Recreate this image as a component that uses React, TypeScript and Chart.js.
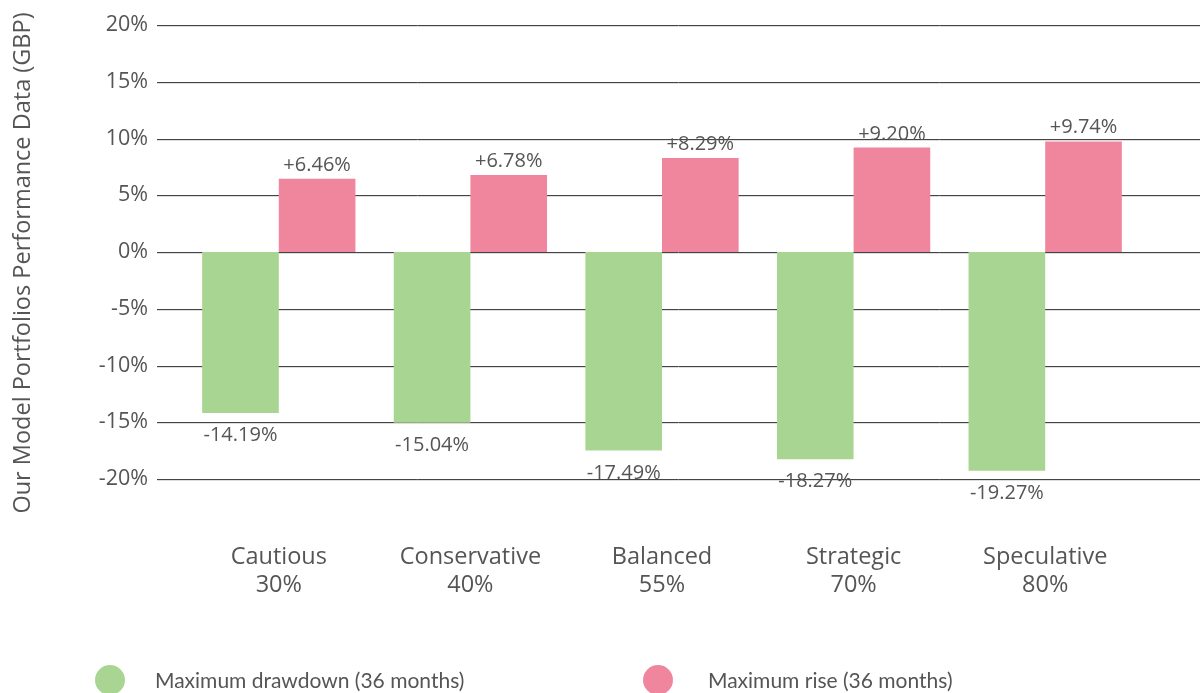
import React, { useEffect, useRef } from "react";
import { Chart, registerables } from "chart.js";

Chart.register(...registerables);

const categories: string[][] = [
  ["Cautious", "30%"],
  ["Conservative", "40%"],
  ["Balanced", "55%"],
  ["Strategic", "70%"],
  ["Speculative", "80%"],
];
const drawdownValues = [-14.19, -15.04, -17.49, -18.27, -19.27];
const riseValues = [6.46, 6.78, 8.29, 9.2, 9.74];
const seriesNames = ["Maximum drawdown (36 months)", "Maximum rise (36 months)"];
const seriesColors = ["#a9d592", "#f0869d"];
const yMin = -20;
const yMax = 20;
const yStep = 5;
const yTitle = "Our Model Portfolios Performance Data (GBP)";

const TEXT = "#555555";
const FONT = "'Open Sans', sans-serif";

const gridPlugin = {
  id: "customGrid",
  beforeDatasetsDraw(chart: any) {
    const { ctx } = chart;
    const y = chart.scales.y;
    ctx.save();
    y.ticks.forEach((t: any) => {
      const py = Math.round(y.getPixelForValue(t.value));
      ctx.strokeStyle = "#dddddd";
      ctx.lineWidth = 1;
      ctx.beginPath();
      ctx.moveTo(157, py + 1.5);
      ctx.lineTo(chart.width, py + 1.5);
      ctx.stroke();
      ctx.strokeStyle = "#444444";
      ctx.lineWidth = 1;
      ctx.beginPath();
      ctx.moveTo(157, py + 0.5);
      ctx.lineTo(chart.width, py + 0.5);
      ctx.stroke();
    });
    // y-axis title
    ctx.save();
    ctx.translate(23, 263);
    ctx.rotate(-Math.PI / 2);
    ctx.fillStyle = TEXT;
    ctx.font = `23.5px ${FONT}`;
    ctx.textAlign = "center";
    ctx.textBaseline = "middle";
    ctx.fillText(yTitle, 0, 0);
    ctx.restore();
    ctx.restore();
  },
};

const labelPlugin = {
  id: "valueLabels",
  afterDatasetsDraw(chart: any) {
    const { ctx } = chart;
    ctx.save();
    ctx.fillStyle = TEXT;
    ctx.font = `20px ${FONT}`;
    ctx.textAlign = "center";
    ctx.textBaseline = "alphabetic";
    chart.data.datasets.forEach((ds: any, di: number) => {
      const meta = chart.getDatasetMeta(di);
      meta.data.forEach((bar: any, i: number) => {
        const v = ds.data[i] as number;
        const txt = (v > 0 ? "+" : "") + v.toFixed(2) + "%";
        if (v >= 0) {
          ctx.fillText(txt, bar.x, bar.y - 8);
        } else {
          ctx.fillText(txt, bar.x, bar.y + 28);
        }
      });
    });
    ctx.restore();
  },
};

export default function App() {
  const ref = useRef<HTMLCanvasElement>(null);
  useEffect(() => {
    document.body.style.margin = "0";
    const chart = new Chart(ref.current as HTMLCanvasElement, {
      type: "bar",
      data: {
        labels: categories,
        datasets: [
          {
            label: seriesNames[0],
            data: drawdownValues,
            backgroundColor: seriesColors[0],
            categoryPercentage: 0.8,
            barPercentage: 1.0,
          },
          {
            label: seriesNames[1],
            data: riseValues,
            backgroundColor: seriesColors[1],
            categoryPercentage: 0.8,
            barPercentage: 1.0,
          },
        ],
      },
      options: {
        animation: false,
        responsive: false,
        maintainAspectRatio: false,
        layout: { padding: { top: 25, right: 59, bottom: 0, left: 0 } },
        plugins: { legend: { display: false }, tooltip: { enabled: false } },
        scales: {
          x: {
            grid: { display: false, drawTicks: false },
            border: { display: false },
            ticks: {
              color: TEXT,
              font: { family: FONT, size: 23.5, lineHeight: 1.19 },
              padding: 64,
              maxRotation: 0,
              autoSkip: false,
            },
            afterFit(scale: any) {
              scale.height = 214;
            },
          },
          y: {
            min: yMin,
            max: yMax,
            grid: { display: false, drawTicks: false },
            border: { display: false },
            ticks: {
              stepSize: yStep,
              color: TEXT,
              font: { family: FONT, size: 21.5 },
              padding: 35,
              callback: (v: any) => `${v}%`,
            },
            afterFit(scale: any) {
              scale.width = 183;
              scale.paddingTop = 0;
              scale.paddingBottom = 0;
            },
          },
        },
      },
      plugins: [gridPlugin, labelPlugin],
    });
    return () => chart.destroy();
  }, []);

  const legendText: React.CSSProperties = {
    position: "absolute",
    top: 668,
    fontFamily: "Lato, sans-serif",
    fontSize: 21,
    color: TEXT,
    lineHeight: "24px",
    whiteSpace: "nowrap",
  };
  const dot = (left: number, color: string): React.CSSProperties => ({
    position: "absolute",
    left,
    top: 665,
    width: 30,
    height: 30,
    borderRadius: "50%",
    background: color,
  });

  return (
    <div style={{ position: "relative", width: 1200, height: 693, overflow: "hidden" }}>
      <canvas ref={ref} width={1200} height={693} style={{ display: "block" }} />
      <div style={dot(95, seriesColors[0])} />
      <div style={{ ...legendText, left: 155 }}>{seriesNames[0]}</div>
      <div style={dot(643, seriesColors[1])} />
      <div style={{ ...legendText, left: 708 }}>{seriesNames[1]}</div>
    </div>
  );
}
